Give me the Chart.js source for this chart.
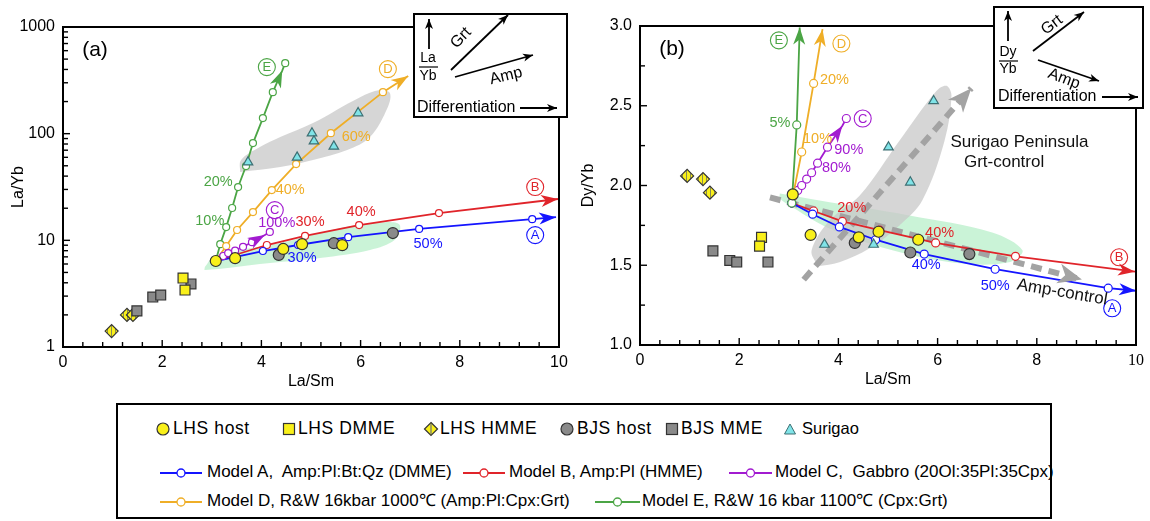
<!DOCTYPE html>
<html>
<head>
<meta charset="utf-8">
<script src="https://cdn.jsdelivr.net/npm/chart.js@4.4.1/dist/chart.umd.min.js"></script>
<style>
  body { margin: 0; background: #fff; width: 1150px; height: 521px; overflow: hidden; position: relative;
         font-family: "Liberation Sans", Arial, sans-serif; }
  #ca { position: absolute; left: 0; top: 0; }
  #cb { position: absolute; left: 575px; top: 0; }
  #legend { position: absolute; left: 116px; top: 403px; width: 932px; height: 112px; border: 2px solid #000; }
  .li { position: absolute; white-space: pre; color: #000; line-height: 1; }
  .sym { position: absolute; }
</style>
</head>
<body>
<canvas id="ca" width="575" height="400"></canvas>
<canvas id="cb" width="575" height="400"></canvas>
<div id="legend"></div>
<script>
// ---- panel (a): La/Sm vs La/Yb ----
const lhsHostA = [[3.08, 6.4], [3.47, 6.8], [4.44, 8.3], [4.82, 9.2], [5.63, 9.0]];
const lhsDmmeA = [[2.42, 4.43], [2.46, 3.42]];
const lhsHmmeA = [[0.98, 1.41], [1.29, 2.0], [1.41, 2.0]];
const bjsHostA = [[4.35, 7.3], [5.46, 9.4], [6.65, 11.7]];
const bjsMmeA = [[2.58, 3.9], [1.81, 2.94], [1.97, 3.07], [1.49, 2.18]];
const surigaoA = [[3.73, 54], [4.72, 60], [5.02, 101], [5.06, 85], [5.46, 76], [5.95, 156]];

const modelA_a = [[3.08, 6.4], [4.03, 7.94], [4.74, 9.04], [5.75, 10.7], [7.18, 12.8], [9.46, 15.8], [9.94, 16.5]];
const modelB_a = [[3.08, 6.4], [4.11, 9.04], [4.88, 11.0], [5.97, 13.9], [7.58, 18.0], [9.98, 24.4]];
const modelC_a = [[3.08, 6.4], [3.23, 7.13], [3.33, 7.6], [3.47, 8.0], [3.63, 8.7], [3.81, 9.6], [4.07, 11.2], [4.17, 12.0]];
const modelD_a = [[3.08, 6.4], [3.29, 8.84], [3.51, 12.5], [3.83, 18.4], [4.21, 29.6], [4.70, 51.9], [5.40, 101], [6.45, 245], [6.96, 347]];
const modelE_a = [[3.08, 6.4], [3.17, 9.2], [3.29, 13.3], [3.41, 20.1], [3.53, 31.6], [3.69, 49.7], [3.83, 81.6], [4.03, 140], [4.23, 245], [4.42, 390], [4.48, 458]];

const greyZoneA = [[3.57, 43.6], [3.59, 56.6], [3.97, 74.9], [4.38, 92.9], [5.04, 126], [5.99, 220], [6.39, 256], [6.59, 240],
                   [6.55, 178], [6.19, 92.9], [5.73, 70.2], [5.04, 56.6], [4.38, 48.6], [3.57, 43.6]];
const greenZoneA = [[2.86, 5.62], [3.06, 7.13], [4.38, 9.43], [5.58, 13.0], [6.49, 14.8], [6.79, 13.9], [6.69, 10.1],
                    [6.19, 8.11], [5.18, 6.82], [3.97, 6.0], [2.86, 5.27], [2.86, 5.62]];

// ---- panel (b): La/Sm vs Dy/Yb ----
const lhsHostB = [[3.08, 1.944], [3.44, 1.69], [4.41, 1.675], [4.81, 1.71], [5.61, 1.66]];
const lhsDmmeB = [[2.45, 1.675], [2.41, 1.62]];
const lhsHmmeB = [[0.95, 2.06], [1.27, 2.04], [1.41, 1.955]];
const bjsHostB = [[4.33, 1.64], [5.45, 1.58], [6.64, 1.57]];
const bjsMmeB = [[1.47, 1.59], [1.81, 1.53], [1.95, 1.52], [2.58, 1.52]];
const surigaoB = [[3.72, 1.63], [4.71, 1.63], [5.92, 2.53], [5.01, 2.24], [5.45, 2.02]];

const modelA_b = [[3.06, 1.89], [3.48, 1.82], [4.02, 1.74], [4.75, 1.66], [5.73, 1.57], [7.16, 1.475], [9.44, 1.356], [10.0, 1.34]];
const modelB_b = [[3.06, 1.89], [3.50, 1.84], [4.08, 1.775], [4.83, 1.72], [5.96, 1.64], [7.57, 1.556], [9.98, 1.46]];
const modelC_b = [[3.08, 1.93], [3.18, 1.969], [3.26, 2.0], [3.36, 2.04], [3.46, 2.08], [3.58, 2.14], [3.78, 2.24], [4.08, 2.375], [4.16, 2.42]];
const modelD_b = [[3.08, 1.93], [3.26, 2.21], [3.50, 2.64], [3.68, 2.98]];
const modelE_b = [[3.06, 1.89], [3.16, 2.38], [3.22, 2.99]];

const grtTrendB = [[3.30, 1.41], [6.68, 2.61]];
const ampTrendB = [[2.62, 1.925], [8.91, 1.41]];

const greyZoneB = [[3.58, 1.494], [3.46, 1.594], [3.82, 1.781], [4.43, 1.9375], [5.23, 2.281], [5.98, 2.594], [6.18, 2.625],
                   [6.28, 2.5625], [6.14, 2.281], [5.69, 1.906], [5.23, 1.75], [4.63, 1.606], [4.02, 1.519], [3.58, 1.494]];
const greenZoneB = [[2.82, 1.95], [3.62, 1.906], [5.43, 1.8125], [7.10, 1.706], [7.71, 1.594], [7.44, 1.519], [6.44, 1.5125],
                    [5.09, 1.594], [3.82, 1.731], [3.08, 1.8625], [2.82, 1.919], [2.82, 1.95]];

const BLUE = '#1414ff', RED = '#e0242a', PURPLE = '#a21bd0', ORANGE = '#efae27', GREEN = '#4ba545';
const YEL = '#f9f01a', GREY = '#8a8a8a', EDGE = '#333', CYAN = '#80e4e8', CYAN_EDGE = '#3d6f73';
const FONT = '"Liberation Sans", Arial, sans-serif';

Chart.defaults.color = '#000';
Chart.defaults.font.family = FONT;

// hatched fill for the HMME diamonds
const pat = document.createElement('canvas');
pat.width = 4; pat.height = 4;
const pc = pat.getContext('2d');
pc.fillStyle = YEL; pc.fillRect(0, 0, 4, 4);
pc.fillStyle = '#8a8a55'; pc.fillRect(3, 0, 1, 4);
const hatch = pc.createPattern(pat, 'repeat');

const pts = arr => arr.map(([x, y]) => ({x, y}));

function markers(arr, style, fill, edge, r) {
  return {data: pts(arr), showLine: false, pointStyle: style, pointRadius: r, pointBackgroundColor: fill,
          pointBorderColor: edge, pointBorderWidth: 1.2, borderWidth: 0};
}
function model(arr, color, tip, r) {
  return {data: pts(arr), borderColor: color, borderWidth: 1.8, pointRadius: arr.map((_, i) => i === tip ? 0 : r),
          pointBackgroundColor: '#fff', pointBorderColor: color, pointBorderWidth: 1.2, arrowAt: tip, fill: false};
}
function trend(arr) {
  return {data: pts(arr), borderColor: '#a3a3a3', borderWidth: 6, borderDash: [11, 7], pointRadius: 0,
          arrowAt: arr.length - 1, headLen: 24, headWid: 20, fill: false};
}
function zone(arr, color) {
  return {data: pts(arr), borderWidth: 0, borderColor: 'rgba(0,0,0,0)', backgroundColor: color, fill: 'shape',
          pointRadius: 0, tension: 0.35};
}

function head(ctx, x0, y0, x1, y1, len, wid, color) {
  const a = Math.atan2(y1 - y0, x1 - x0);
  ctx.save();
  ctx.translate(x1, y1); ctx.rotate(a);
  ctx.beginPath();
  ctx.moveTo(0, 0); ctx.lineTo(-len, wid / 2); ctx.lineTo(-len * 0.72, 0); ctx.lineTo(-len, -wid / 2);
  ctx.closePath();
  ctx.fillStyle = color; ctx.fill();
  ctx.restore();
}
function arrow(ctx, x0, y0, x1, y1) {
  ctx.beginPath(); ctx.moveTo(x0, y0); ctx.lineTo(x1, y1);
  ctx.strokeStyle = '#000'; ctx.lineWidth = 1.8; ctx.stroke();
  head(ctx, x0, y0, x1, y1, 10, 8, '#000');
}
function txt(ctx, s, x, y, size, rot, align) {
  ctx.save();
  ctx.translate(x, y); if (rot) ctx.rotate(rot);
  ctx.font = size + 'px ' + FONT; ctx.fillStyle = '#000';
  ctx.textAlign = align || 'center'; ctx.textBaseline = 'middle';
  ctx.fillText(s, 0, 0);
  ctx.restore();
}

const isDecade = v => Math.abs(Math.log10(v) - Math.round(Math.log10(v))) < 1e-6;
const isWhole = v => { const m = v / Math.pow(10, Math.floor(Math.log10(v) + 1e-9)); return Math.abs(m - Math.round(m)) < 1e-6; };
const near = (v, s) => Math.abs(v / s - Math.round(v / s)) < 1e-6;

function overlay(notes, tag, inset, logY) {
  return {
    id: 'overlay',
    afterDatasetsDraw(chart) {
      const ctx = chart.ctx, a = chart.chartArea, sx = chart.scales.x, sy = chart.scales.y;
      chart.data.datasets.forEach((ds, i) => {
        if (ds.arrowAt === undefined) return;
        const p = chart.getDatasetMeta(i).data;
        const tip = p[ds.arrowAt], from = p[ds.arrowAt - 1];
        head(ctx, from.x, from.y, tip.x, tip.y, ds.headLen || 17, ds.headWid || 12, ds.borderColor);
      });
      ctx.save();
      ctx.strokeStyle = '#000'; ctx.lineWidth = 2;
      ctx.strokeRect(a.left, a.top, a.right - a.left, a.bottom - a.top);
      ctx.lineWidth = 1.4;
      sx.ticks.forEach(t => {
        const p = sx.getPixelForValue(t.value), len = near(t.value, 2) ? 7 : 5;
        ctx.beginPath(); ctx.moveTo(p, a.bottom); ctx.lineTo(p, a.bottom - len); ctx.stroke();
      });
      sy.ticks.forEach(t => {
        if (logY && !isWhole(t.value)) return;
        const major = logY ? isDecade(t.value) : near(t.value, 0.5);
        const p = sy.getPixelForValue(t.value);
        ctx.beginPath(); ctx.moveTo(a.left, p); ctx.lineTo(a.left + (major ? 7 : 5), p); ctx.stroke();
      });
      ctx.restore();
      notes.forEach(n => {
        const px = sx.getPixelForValue(n.x), py = sy.getPixelForValue(n.y);
        ctx.save();
        ctx.translate(px, py); if (n.rot) ctx.rotate(n.rot);
        ctx.fillStyle = n.c; ctx.textAlign = 'center'; ctx.textBaseline = 'middle';
        if (n.ring) {
          ctx.beginPath(); ctx.arc(0, 0, 8.5, 0, Math.PI * 2);
          ctx.strokeStyle = n.c; ctx.lineWidth = 1.1; ctx.stroke();
          ctx.font = '13px ' + FONT; ctx.fillText(n.t, 0, 0.5);
        } else {
          ctx.font = (n.size || 14.5) + 'px ' + FONT; ctx.fillText(n.t, 0, 0);
        }
        ctx.restore();
      });
      txt(ctx, tag, a.left + 32, a.top + 23, 21);
      inset(ctx);
    }
  };
}

function insetA(ctx) {
  ctx.save();
  ctx.fillStyle = '#fff'; ctx.fillRect(414, 14, 153, 103);
  ctx.strokeStyle = '#000'; ctx.lineWidth = 2; ctx.strokeRect(414, 14, 153, 103);
  arrow(ctx, 429, 49, 429, 19);
  txt(ctx, 'La', 428, 58, 14);
  ctx.beginPath(); ctx.moveTo(419, 67); ctx.lineTo(438, 67); ctx.lineWidth = 1.2; ctx.stroke();
  txt(ctx, 'Yb', 428, 76, 14);
  arrow(ctx, 451, 70, 508, 15);
  txt(ctx, 'Grt', 461, 38, 16, -0.8);
  arrow(ctx, 455, 77, 533, 55);
  txt(ctx, 'Amp', 506, 76, 16, -0.24);
  txt(ctx, 'Differentiation', 417, 108, 16, 0, 'left');
  arrow(ctx, 520, 108, 557, 108);
  ctx.restore();
}
function insetB(ctx) {
  const o = 575;
  ctx.save();
  ctx.fillStyle = '#fff'; ctx.fillRect(994 - o, 7, 149, 101);
  ctx.strokeStyle = '#000'; ctx.lineWidth = 2; ctx.strokeRect(994 - o, 7, 149, 101);
  arrow(ctx, 1008 - o, 41, 1008 - o, 11);
  txt(ctx, 'Dy', 1008 - o, 52, 14);
  ctx.beginPath(); ctx.moveTo(999 - o, 61); ctx.lineTo(1018 - o, 61); ctx.lineWidth = 1.2; ctx.stroke();
  txt(ctx, 'Yb', 1008 - o, 69, 14);
  arrow(ctx, 1033 - o, 51, 1084 - o, 12);
  txt(ctx, 'Grt', 1052 - o, 25, 16, -0.65);
  arrow(ctx, 1038 - o, 60, 1099 - o, 81);
  txt(ctx, 'Amp', 1064 - o, 79, 16, 0.36);
  txt(ctx, 'Differentiation', 998 - o, 97, 16, 0, 'left');
  arrow(ctx, 1102 - o, 97, 1138 - o, 97);
  ctx.restore();
}

const notesA = [
  {x: 4.11, y: 421, t: 'E', c: GREEN, ring: true},
  {x: 3.13, y: 35.2, t: '20%', c: GREEN},
  {x: 2.96, y: 15.2, t: '10%', c: GREEN},
  {x: 6.55, y: 403, t: 'D', c: ORANGE, ring: true},
  {x: 5.91, y: 93, t: '60%', c: ORANGE},
  {x: 4.58, y: 29.6, t: '40%', c: ORANGE},
  {x: 4.27, y: 19.2, t: 'C', c: PURPLE, ring: true},
  {x: 4.31, y: 14.5, t: '100%', c: PURPLE},
  {x: 4.98, y: 14.8, t: '30%', c: RED},
  {x: 6.01, y: 18.4, t: '40%', c: RED},
  {x: 9.52, y: 31.6, t: 'B', c: RED, ring: true},
  {x: 4.82, y: 6.82, t: '30%', c: BLUE},
  {x: 7.36, y: 9.23, t: '50%', c: BLUE},
  {x: 9.52, y: 11.2, t: 'A', c: BLUE, ring: true}
];
const notesB = [
  {x: 2.80, y: 2.91, t: 'E', c: GREEN, ring: true},
  {x: 2.82, y: 2.39, t: '5%', c: GREEN},
  {x: 4.06, y: 2.89, t: 'D', c: ORANGE, ring: true},
  {x: 3.92, y: 2.66, t: '20%', c: ORANGE},
  {x: 3.58, y: 2.29, t: '10%', c: ORANGE},
  {x: 4.49, y: 2.42, t: 'C', c: PURPLE, ring: true},
  {x: 4.21, y: 2.225, t: '90%', c: PURPLE},
  {x: 3.96, y: 2.11, t: '80%', c: PURPLE},
  {x: 4.27, y: 1.856, t: '20%', c: RED},
  {x: 6.04, y: 1.70, t: '40%', c: RED},
  {x: 9.66, y: 1.55, t: 'B', c: RED, ring: true},
  {x: 5.77, y: 1.50, t: '40%', c: BLUE},
  {x: 7.16, y: 1.37, t: '50%', c: BLUE},
  {x: 9.52, y: 1.23, t: 'A', c: BLUE, ring: true},
  {x: 7.65, y: 2.27, t: 'Surigao Peninsula', c: '#111', size: 17},
  {x: 7.34, y: 2.145, t: 'Grt-control', c: '#111', size: 17},
  {x: 8.51, y: 1.33, t: 'Amp-control', c: '#111', size: 17, rot: 0.17}
];

function pointSets(host, dmme, hmme, bjsHost, bjsMme, sur) {
  return [
    markers(host, 'circle', YEL, EDGE, 5.5),
    markers(bjsHost, 'circle', GREY, EDGE, 5.5),
    markers(dmme, 'rect', YEL, EDGE, 7),
    markers(bjsMme, 'rect', GREY, EDGE, 7),
    markers(hmme, 'rectRot', hatch, EDGE, 6.5),
    markers(sur, 'triangle', CYAN, CYAN_EDGE, 5.5)
  ];
}

function xAxis(height, pad, serifTen) {
  return {
    type: 'linear', min: 0, max: 10,
    afterFit: s => { s.height = height; },
    border: {display: false}, grid: {display: false, drawTicks: false},
    ticks: {stepSize: 0.4, autoSkip: false, maxRotation: 0, padding: 6, color: '#000',
            font: c => ({size: 16, family: serifTen && c.tick && Math.round(c.tick.value) === 10 ? '"Liberation Serif", serif' : FONT}),
            callback: v => near(v, 2) ? String(Math.round(v)) : ''},
    title: {display: true, text: 'La/Sm', font: {size: 16}, color: '#000', padding: {top: 0, bottom: pad}}
  };
}

const common = {
  type: 'line',
  options: {
    responsive: false, animation: false, events: [],
    plugins: {legend: {display: false}, tooltip: {enabled: false}}
  }
};

new Chart(document.getElementById('ca'), {
  type: 'line',
  data: {datasets: [
    ...pointSets(lhsHostA, lhsDmmeA, lhsHmmeA, bjsHostA, bjsMmeA, surigaoA),
    model(modelC_a, PURPLE, 6, 3.5),
    model(modelA_a, BLUE, 6, 3.5),
    model(modelB_a, RED, 5, 3.5),
    model(modelD_a, ORANGE, 8, 3.5),
    model(modelE_a, GREEN, 9, 3.5),
    zone(greenZoneA, 'rgba(150,232,175,0.5)'),
    zone(greyZoneA, 'rgba(200,200,200,0.75)')
  ]},
  options: {
    ...common.options,
    layout: {padding: {left: 0, right: 16, top: 27, bottom: 0}},
    scales: {
      x: xAxis(53, 9, false),
      y: {
        type: 'logarithmic', min: 1, max: 1000,
        afterFit: s => { s.width = 63; },
        border: {display: false}, grid: {display: false, drawTicks: false},
        ticks: {autoSkip: false, padding: 8, font: {size: 16}, color: '#000',
                callback: v => isDecade(v) ? String(Math.round(v)) : ''},
        title: {display: true, text: 'La/Yb', font: {size: 16}, color: '#000', padding: {top: 9, bottom: 0}}
      }
    }
  },
  plugins: [overlay(notesA, '(a)', insetA, true)]
});

new Chart(document.getElementById('cb'), {
  type: 'line',
  data: {datasets: [
    ...pointSets(lhsHostB, lhsDmmeB, lhsHmmeB, bjsHostB, bjsMmeB, surigaoB),
    model(modelE_b, GREEN, 2, 4),
    model(modelD_b, ORANGE, 3, 4),
    model(modelC_b, PURPLE, 7, 4),
    model(modelA_b, BLUE, 7, 4),
    model(modelB_b, RED, 6, 4),
    trend(grtTrendB),
    trend(ampTrendB),
    zone(greyZoneB, 'rgba(200,200,200,0.75)'),
    zone(greenZoneB, 'rgba(150,232,175,0.5)')
  ]},
  options: {
    ...common.options,
    layout: {padding: {left: 0, right: 13, top: 26, bottom: 0}},
    scales: {
      x: xAxis(55, 11, true),
      y: {
        type: 'linear', min: 1, max: 3,
        afterFit: s => { s.width = 65; },
        border: {display: false}, grid: {display: false, drawTicks: false},
        ticks: {stepSize: 0.25, autoSkip: false, padding: 8, font: {size: 16}, color: '#000',
                callback: v => near(v, 0.5) ? v.toFixed(1) : ''},
        title: {display: true, text: 'Dy/Yb', font: {size: 16}, color: '#000', padding: {top: 4, bottom: 0}}
      }
    }
  },
  plugins: [overlay(notesB, '(b)', insetB, false)]
});

// ---- legend ----
const legendMarks = [
  {kind: 'circle', fill: YEL, mx: 163, tx: 173, text: 'LHS host'},
  {kind: 'square', fill: YEL, mx: 289, tx: 298, text: 'LHS DMME'},
  {kind: 'diamond', fill: YEL, mx: 431, tx: 440, text: 'LHS HMME'},
  {kind: 'circle', fill: GREY, mx: 567, tx: 577, text: 'BJS host'},
  {kind: 'square', fill: GREY, mx: 672, tx: 681, text: 'BJS MME'},
  {kind: 'tri', fill: CYAN, mx: 790, tx: 802, text: 'Surigao'}
];
const legendModels = [
  {color: BLUE, x0: 160, x1: 202, tx: 207, y: 471, text: 'Model A,  Amp:Pl:Bt:Qz (DMME)'},
  {color: RED, x0: 463, x1: 505, tx: 509, y: 471, text: 'Model B, Amp:Pl (HMME)'},
  {color: PURPLE, x0: 729, x1: 772, tx: 775, y: 471, text: 'Model C,  Gabbro (20Ol:35Pl:35Cpx)'},
  {color: ORANGE, x0: 160, x1: 202, tx: 207, y: 500, text: 'Model D, R&W 16kbar 1000\u2103 (Amp:Pl:Cpx:Grt)'},
  {color: GREEN, x0: 595, x1: 640, tx: 642, y: 500, text: 'Model E, R&W 16 kbar 1100\u2103 (Cpx:Grt)'}
];

const leg = document.getElementById('legend');
const OX = 118, OY = 405;
function put(html, left, top, cls) {
  const d = document.createElement('div');
  d.className = cls; d.innerHTML = html;
  d.style.left = (left - OX) + 'px'; d.style.top = (top - OY) + 'px';
  leg.appendChild(d);
  return d;
}
legendMarks.forEach(m => {
  const y = 429;
  let shape;
  if (m.kind === 'circle') shape = `<circle cx="8" cy="8" r="6" fill="${m.fill}" stroke="${EDGE}" stroke-width="1.2"/>`;
  else if (m.kind === 'square') shape = `<rect x="2.5" y="2.5" width="11" height="11" fill="${m.fill}" stroke="${EDGE}" stroke-width="1.2"/>`;
  else if (m.kind === 'diamond') shape = `<polygon points="8,1.5 14.5,8 8,14.5 1.5,8" fill="${m.fill}" stroke="${EDGE}" stroke-width="1.2"/><line x1="8" y1="3" x2="8" y2="13" stroke="#777" stroke-width="1.3"/>`;
  else shape = `<polygon points="8,3 13.5,13 2.5,13" fill="${m.fill}" stroke="${CYAN_EDGE}" stroke-width="1"/>`;
  put(`<svg width="16" height="16">${shape}</svg>`, m.mx - 8, y - 8, 'sym');
  const t = put(m.text, m.tx, y - 9, 'li');
  t.style.fontSize = m.kind === 'tri' ? '16.5px' : '17.5px';
  t.style.letterSpacing = m.kind === 'tri' ? '0' : '0.6px';
});
legendModels.forEach(m => {
  const w = m.x1 - m.x0, c = w / 2;
  put(`<svg width="${w}" height="12"><line x1="0" y1="6" x2="${w}" y2="6" stroke="${m.color}" stroke-width="1.8"/>` +
      `<circle cx="${c}" cy="6" r="4" fill="#fff" stroke="${m.color}" stroke-width="1.3"/></svg>`, m.x0, m.y - 6, 'sym');
  const t = put(m.text, m.tx, m.y - 8.5, 'li');
  t.style.fontSize = '17px';
});
</script>
</body>
</html>
